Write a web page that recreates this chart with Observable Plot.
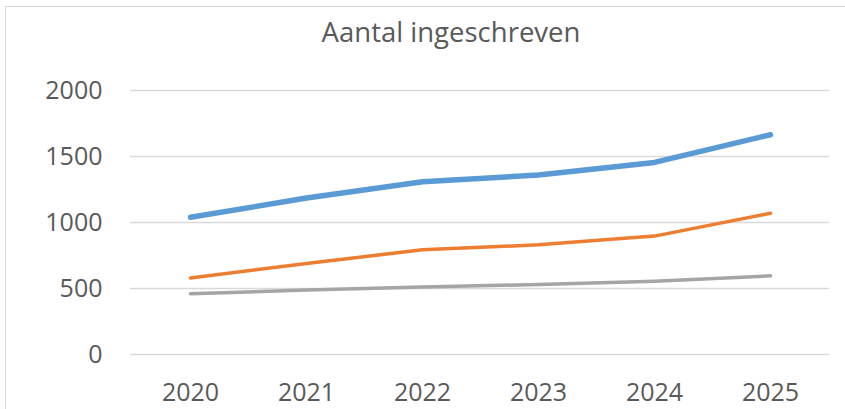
<!DOCTYPE html>
<html>
<head>
<meta charset="utf-8">
<script src="https://cdn.jsdelivr.net/npm/d3@7"></script>
<script src="https://cdn.jsdelivr.net/npm/@observablehq/plot@0.6"></script>
<style>
  html, body { margin: 0; padding: 0; background: #fff; overflow: hidden; }
  #wrap { position: relative; width: 845px; height: 409px; overflow: hidden; font-family: "Open Sans", sans-serif; }
  #border { position: absolute; left: 5px; top: 6px; width: 900px; height: 500px; border: 1.5px solid #d9d9d9; box-sizing: border-box; }
  #title { position: absolute; left: 0; top: 18px; width: 845px; box-sizing: border-box; padding-left: 57px; text-align: center; font-size: 27.5px; line-height: 28px; color: #595959; }
  #chart { position: absolute; left: 0; top: 60px; }
</style>
</head>
<body>
<div id="wrap">
  <div id="border"></div>
  <div id="title">Aantal ingeschreven</div>
  <div id="chart"></div>
</div>
<script>
const years = ["2020", "2021", "2022", "2023", "2024", "2025"];
const series1 = [1040, 1185, 1308, 1360, 1455, 1665];
const series2 = [580, 690, 793, 831, 897, 1070];
const series3 = [460, 488, 512, 530, 555, 596];
const yTicks = [0, 500, 1000, 1500, 2000];
const seriesNames = ["Reeks1", "Reeks2", "Reeks3"];
const seriesColors = ["#5B9BD5", "#ED7D31", "#A5A5A5"];
const seriesWidths = [5.5, 3.5, 3.5];

const allSeries = [series1, series2, series3];
const data = allSeries.flatMap((vals, s) =>
  vals.map((v, i) => ({year: years[i], value: v, series: seriesNames[s]}))
);

const chart = Plot.plot({
  width: 845,
  height: 349,
  marginTop: 30,
  marginBottom: 55,
  marginLeft: 130,
  marginRight: 16,
  style: {fontFamily: "Open Sans, sans-serif", fontSize: "25px", color: "#595959", background: "transparent", overflow: "visible"},
  x: {type: "point", domain: years, padding: 0.5, label: null},
  y: {domain: [0, 2000], ticks: yTicks, label: null},
  marks: [
    Plot.ruleY(yTicks, {stroke: "#d9d9d9", strokeWidth: 1.5}),
    Plot.axisY({ticks: yTicks, tickSize: 0, tickPadding: 28, tickFormat: d => String(d), fill: "#595959", fontSize: 25, label: null}),
    Plot.axisX({tickSize: 0, tickPadding: 29, fill: "#595959", fontSize: 25, label: null}),
    ...seriesNames.slice().reverse().map(name => {
      const s = seriesNames.indexOf(name);
      return Plot.line(data.filter(d => d.series === name), {
        x: "year", y: "value",
        stroke: seriesColors[s], strokeWidth: seriesWidths[s],
        strokeLinecap: "round", strokeLinejoin: "round"
      });
    })
  ]
});
document.getElementById("chart").appendChild(chart);
</script>
</body>
</html>
